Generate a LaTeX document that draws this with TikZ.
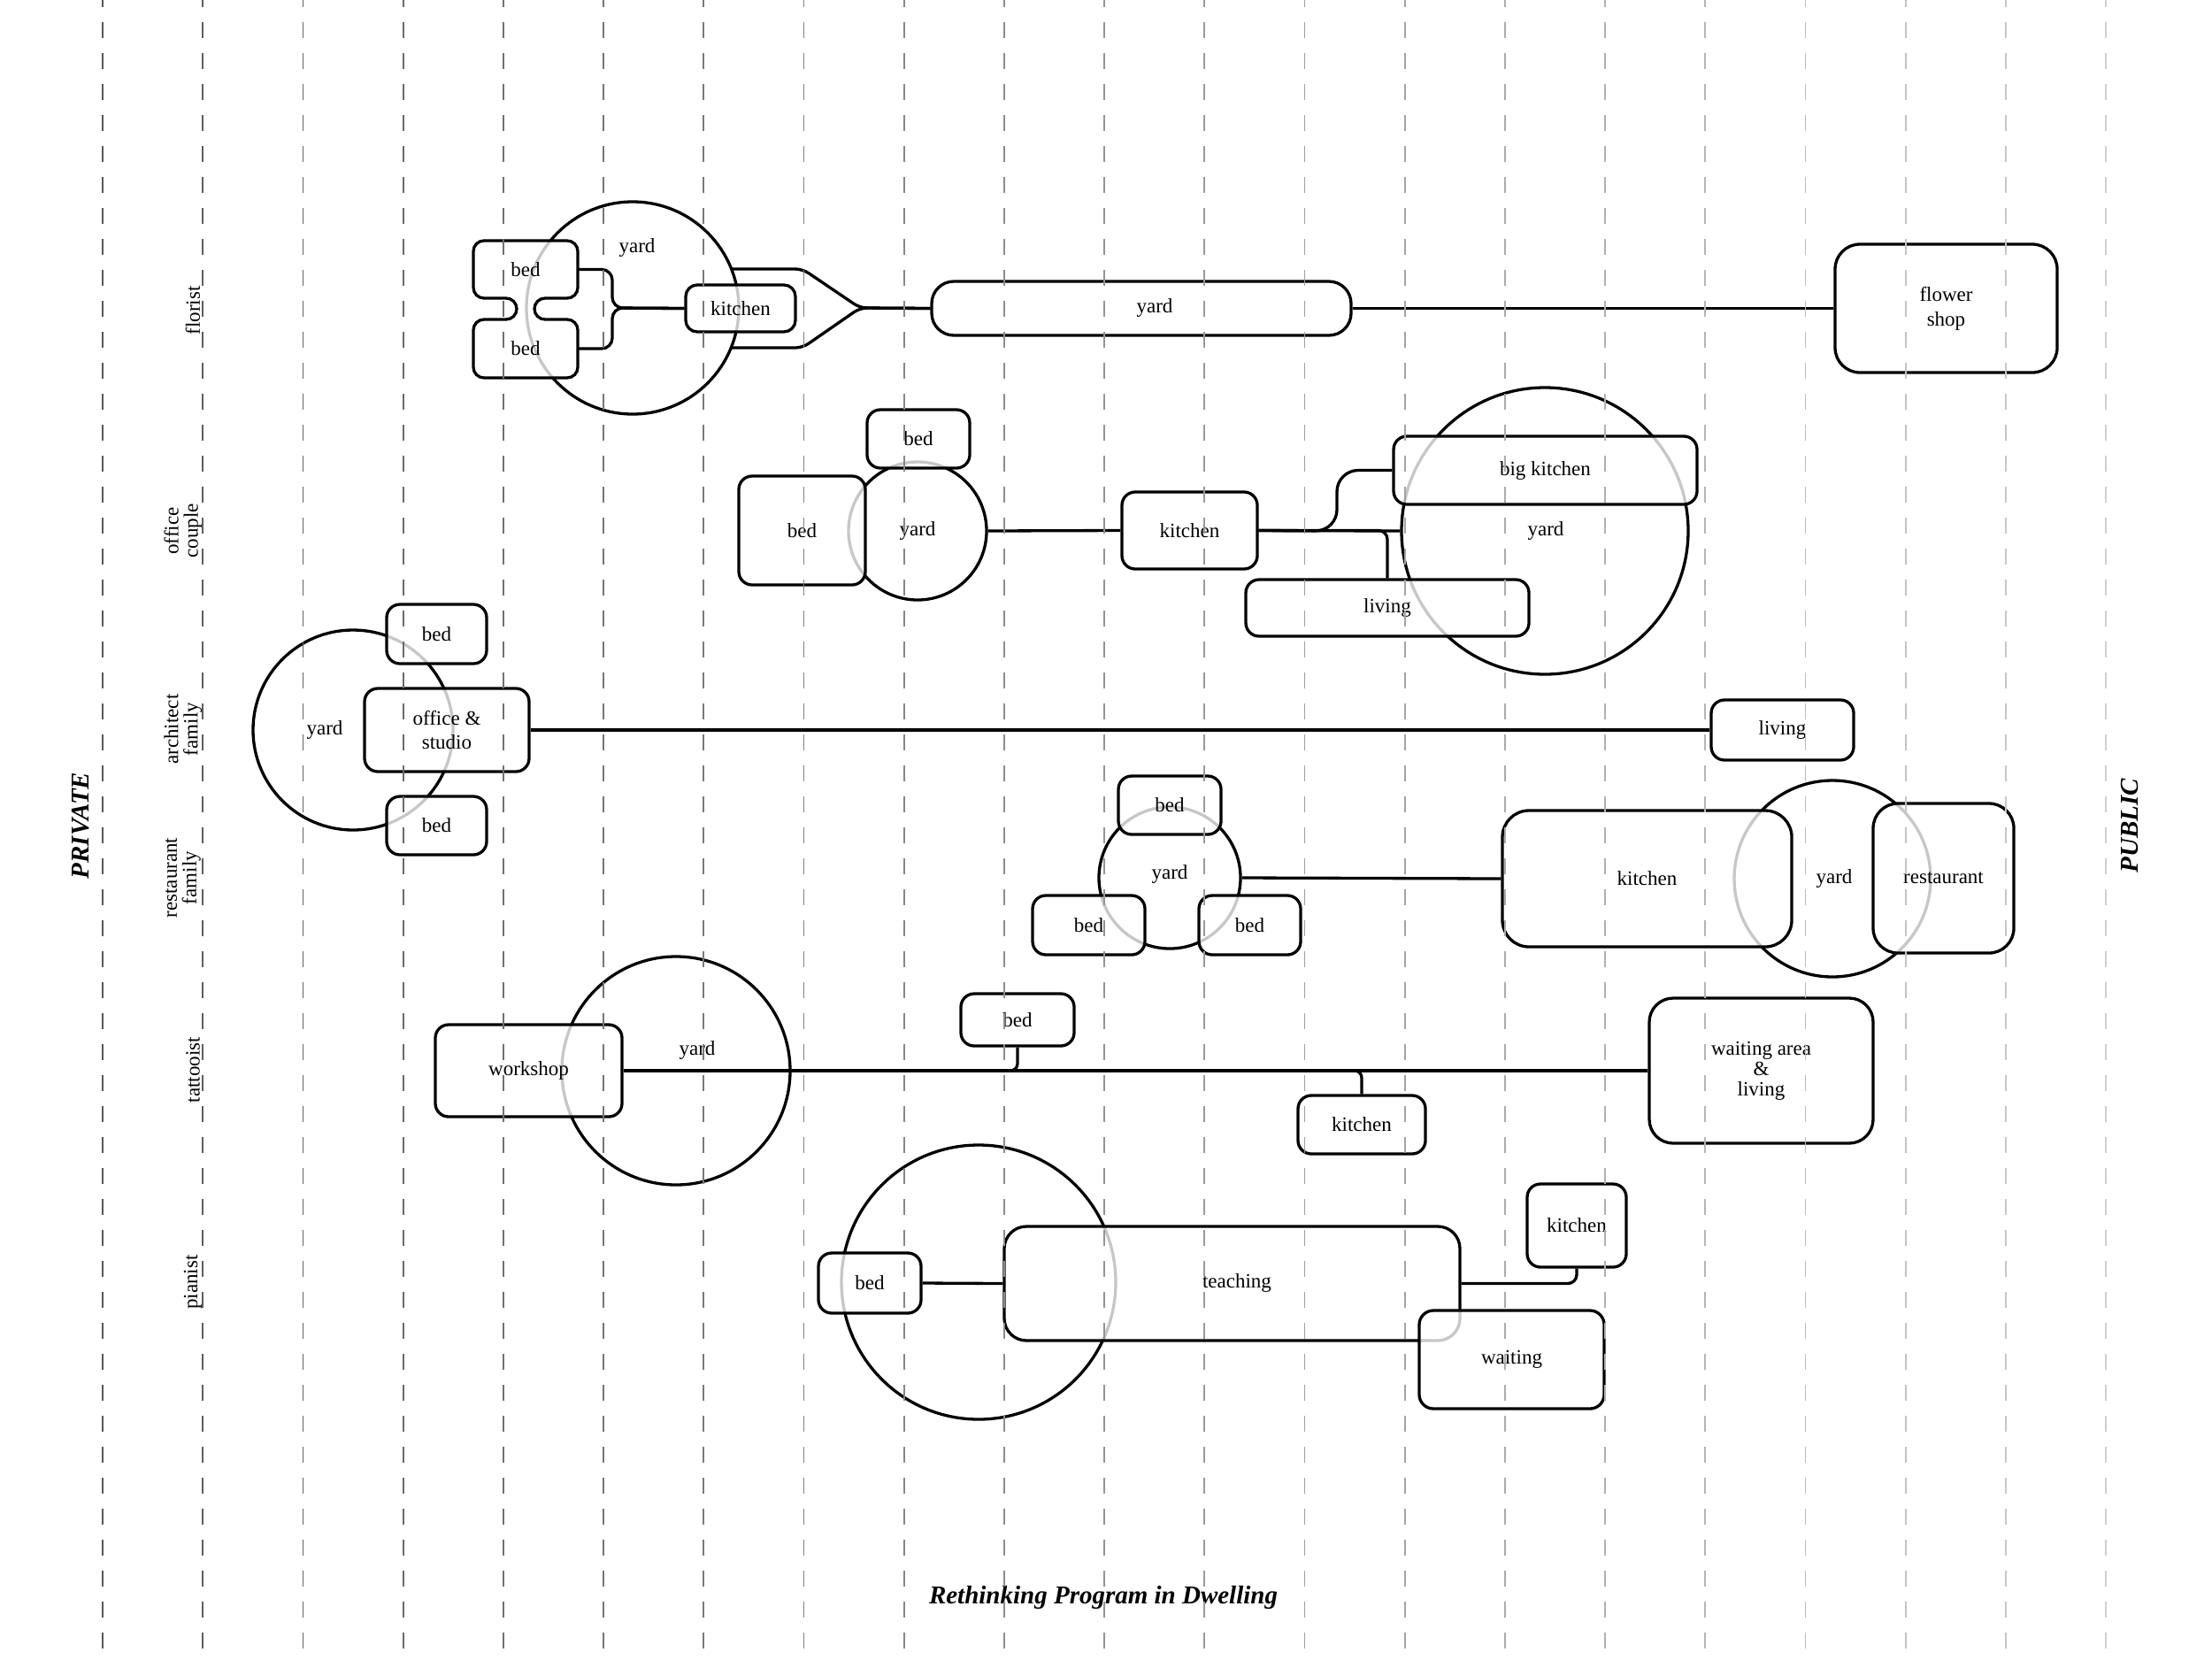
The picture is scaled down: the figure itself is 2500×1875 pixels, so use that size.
\documentclass[tikz,border=0pt]{standalone}
\usepackage{fontspec}
\setmainfont{Liberation Serif}
\newcommand\labfont{\fontsize{23pt}{26pt}\selectfont}
\newcommand\bigfont{\fontsize{29pt}{32pt}\selectfont\bfseries\itshape}
\begin{document}
\begin{tikzpicture}[x=1pt,y=-1pt,
  room/.style={draw, line width=3.3pt, fill=white, fill opacity=0.78, text opacity=1, rounded corners=15pt, inner sep=0pt, align=center, font=\labfont},
  yardc/.style={draw, circle, line width=3.3pt, inner sep=0pt},
  link/.style={line width=3.3pt},
  lbl/.style={inner sep=0pt, font=\labfont, align=center},
  rowlbl/.style={inner sep=0pt, font=\fontsize{23pt}{22pt}\selectfont, align=center, rotate=90},
  side/.style={inner sep=0pt, font=\bigfont, rotate=90}]
\useasboundingbox (0,0) rectangle (2500,1875);
\fill[white] (0,0) rectangle (2500,1875);

% ---------- yard circles ----------
\node[yardc, minimum size=240pt] (fyard) at (715,348) {};
\node[yardc, minimum size=156pt] (oyardS) at (1037,600) {};
\node[yardc, minimum size=324pt] (oyardB) at (1746,600) {};
\node[yardc, minimum size=226pt] (ayard) at (399,825) {};
\node[yardc, minimum size=160pt] (ryardS) at (1322,992) {};
\node[yardc, minimum size=222pt] (ryardB) at (2071,993) {};
\node[yardc, minimum size=258pt] (tyard) at (764,1210) {};
\node[yardc, minimum size=310pt] (pyard) at (1106,1449) {};

% ---------- florist ----------
\draw[line width=3.3pt, fill=white, fill opacity=0.78, rounded corners=12pt]
  (535,272) -- (653,272) -- (653,337) -- (604,337) -- (604,361) -- (653,361)
  -- (653,427) -- (535,427) -- (535,361) -- (584,361) -- (584,337) -- (535,337) -- cycle;
\node[lbl, minimum width=118pt, minimum height=65pt] (fbedA) at (594,304.5) {bed};
\node[lbl, minimum width=118pt, minimum height=66pt] (fbedB) at (594,394) {bed};
\node[room, minimum width=124pt, minimum height=53pt, rounded corners=13pt] (fkit) at (837,348.5) {kitchen};
\node[room, minimum width=474pt, minimum height=61pt, rounded corners=25pt] (fpill) at (1290,348.5) {};
\node[room, minimum width=251pt, minimum height=145pt, rounded corners=28pt, font=\fontsize{23pt}{28pt}\selectfont] (fshop) at (2199.5,348.5) {flower\\shop};

% ---------- office couple ----------
\node[room, minimum width=116pt, minimum height=66pt] (obedT) at (1038,496) {bed};
\node[room, minimum width=143pt, minimum height=123pt] (obedL) at (906.5,599.5) {bed};
\node[room, minimum width=153pt, minimum height=87pt] (okit) at (1344.5,599.5) {kitchen};
\node[room, minimum width=343pt, minimum height=77pt] (obkit) at (1746.5,531.5) {big kitchen};
\node[room, minimum width=320pt, minimum height=64pt] (oliving) at (1568,687) {living};

% ---------- architect family ----------
\node[room, minimum width=113pt, minimum height=67pt] (abedT) at (493.5,716.5) {bed};
\node[room, minimum width=186pt, minimum height=94pt, font=\fontsize{23pt}{27pt}\selectfont] (aoffice) at (505,825) {office \&\\studio};
\node[room, minimum width=113pt, minimum height=66pt] (abedB) at (493.5,933) {bed};
\node[room, minimum width=161pt, minimum height=68pt] (aliving) at (2014.5,825) {living};

% ---------- restaurant family ----------
\node[room, minimum width=116pt, minimum height=66pt] (rbedT) at (1322,910) {bed};
\node[room, minimum width=127pt, minimum height=67pt] (rbedL) at (1230.5,1045.5) {bed};
\node[room, minimum width=115pt, minimum height=67pt] (rbedR) at (1412.5,1045.5) {bed};
\node[room, minimum width=327pt, minimum height=154pt, rounded corners=30pt] (rkit) at (1861.5,993) {kitchen};
\node[room, minimum width=159pt, minimum height=169pt, rounded corners=28pt] (rrest) at (2196.5,992.5) {restaurant};

% ---------- tattooist ----------
\node[room, minimum width=211pt, minimum height=104pt] (tshop) at (597.5,1210) {workshop};
\node[room, minimum width=128pt, minimum height=59pt] (tbed) at (1150,1152.5) {bed};
\node[room, minimum width=144pt, minimum height=66pt] (tkit) at (1539,1271) {kitchen};
\node[room, minimum width=253pt, minimum height=164pt, rounded corners=27pt, font=\fontsize{23pt}{23pt}\selectfont] (twait) at (1990.5,1210) {waiting area\\\&\\living};

% ---------- pianist ----------
\node[room, minimum width=116pt, minimum height=68pt] (pbed) at (983,1450) {bed};
\node[room, minimum width=515pt, minimum height=129pt, rounded corners=25pt] (pteach) at (1392.5,1450.5) {};
\node[room, minimum width=209pt, minimum height=111pt, rounded corners=16pt] (pwait) at (1708.5,1536.5) {waiting};
\node[room, minimum width=112pt, minimum height=94pt] (pkit) at (1782,1385) {kitchen};

% ---------- connector points ----------
\coordinate (fjoin) at (692,348);
\coordinate (ftopA) at (826,304);
\coordinate (ftopB) at (907,304);
\coordinate (fbotA) at (826,393);
\coordinate (fbotB) at (907,393);
\coordinate (ftip) at (972,348);
\coordinate (obend) at (1511,600);
\coordinate (tbedj) at (1120,1210);
\coordinate (tkitj) at (1515,1210);

% ---------- connectors ----------
\draw[link, rounded corners=12pt] (fbedA.east) -| (fjoin) -- (fkit.west);
\draw[link, rounded corners=12pt] (fbedB.east) -| (fjoin) -- (fkit.west);
\draw[link, rounded corners=8pt] (ftopA) -- (ftopB) -- (ftip) -- (fpill.west);
\draw[link, rounded corners=8pt] (fbotA) -- (fbotB) -- (ftip) -- (fpill.west);
\draw[link] (fpill.east) -- (fshop.west);

\draw[link] (oyardS.east) -- (okit.west);
\draw[link] (okit.east) -- (oyardB.west);
\draw[link, rounded corners=24pt] (okit.east) -- (obend) |- (obkit.west);
\draw[link, rounded corners=10pt] (okit.east) -| (oliving.north);

\draw[link] (aoffice.east) -- (aliving.west);

\draw[link] (ryardS.east) -- (rkit.west);

\draw[link] (tshop.east) -- (twait.west);
\draw[link, rounded corners=8pt] (tbed.south) |- (tbedj);
\draw[link, rounded corners=8pt] (tkit.north) |- (tkitj);

\draw[link] (pbed.east) -- (pteach.west);
\draw[link, rounded corners=10pt] (pteach.east) -| (pkit.south);

% ---------- labels ----------
\node[lbl] (fyardt) at (720,280) {yard};
\node[lbl] (fpillt) at (1305,348) {yard};
\node[lbl] (oyardSt) at (1037,600) {yard};
\node[lbl] (oyardBt) at (1747,600) {yard};
\node[lbl] (ayardt) at (367,825) {yard};
\node[lbl] (ryardSt) at (1322,988) {yard};
\node[lbl] (ryardBt) at (2073,993) {yard};
\node[lbl] (tyardt) at (788,1187) {yard};
\node[lbl] (pteacht) at (1398,1450) {teaching};

\node[rowlbl] (rflor) at (218,351) {florist};
\node[rowlbl] (roff) at (207,600) {office\\couple};
\node[rowlbl] (rarch) at (207,824) {architect\\family};
\node[rowlbl] (rrest) at (207,992) {restaurant\\family};
\node[rowlbl] (rtat) at (218,1209) {tattooist};
\node[rowlbl] (rpia) at (218,1449) {pianist};

\node[side] (priv) at (91,933) {PRIVATE};
\node[side] (publ) at (2407,933) {PUBLIC};
\node[inner sep=0pt, font=\bigfont] (title) at (1247,1805) {Rethinking Program in Dwelling};

% ---------- dashed guide lines ----------
\foreach \k in {0,...,20}{
  \pgfmathsetmacro\xx{116+113.2*\k}
  \pgfmathtruncatemacro\pp{66-2.3*\k}
  \draw[black!\pp, line width=1.8pt, dash pattern=on 18.3pt off 16.7pt, dash phase=10pt] (\xx,0) -- (\xx,1875);
}
\end{tikzpicture}
\end{document}
